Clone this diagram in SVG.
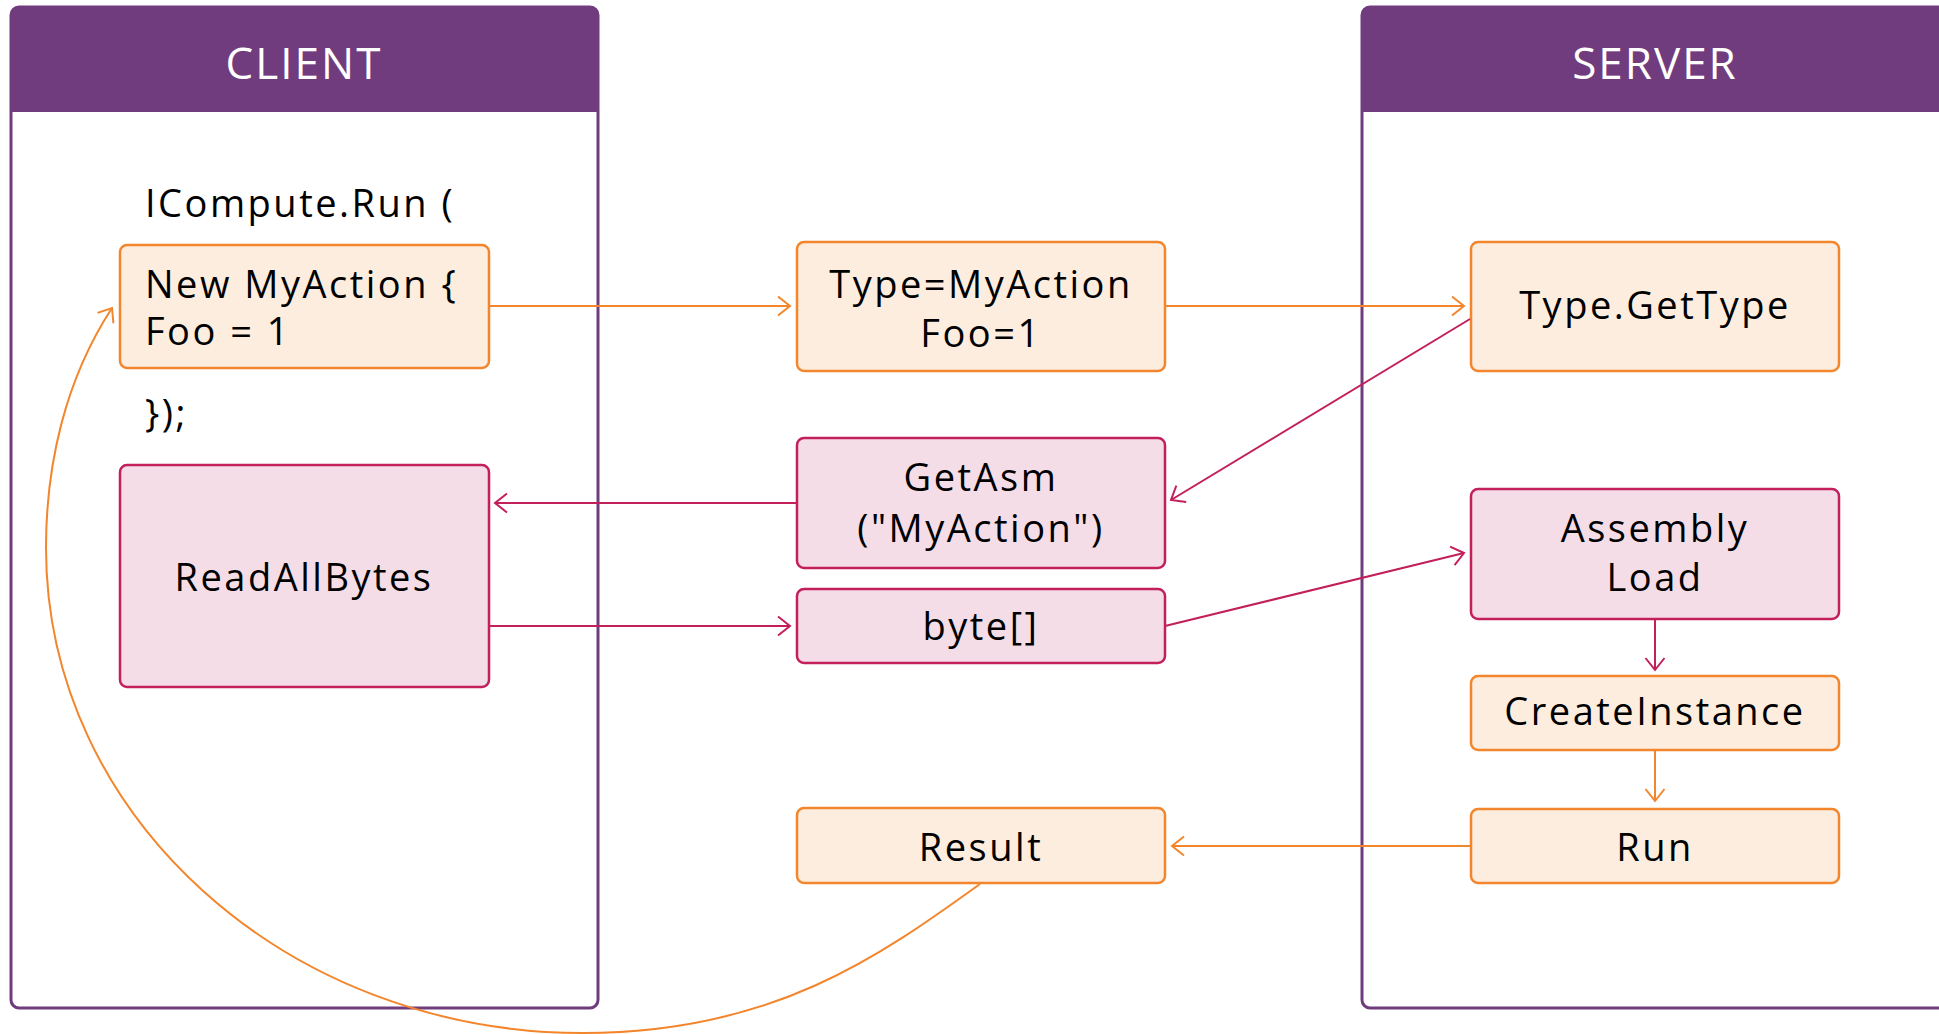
<svg xmlns="http://www.w3.org/2000/svg" width="1939" height="1034" viewBox="0 0 1939 1034">
  <style>
    .frame { fill: #ffffff; stroke: #703C7E; stroke-width: 3; }
    .head { fill: #703C7E; }
    .htxt { font-family: "Open Sans", "Noto Sans", sans-serif; font-size: 44px; fill: #ffffff; text-anchor: middle; letter-spacing: 2px; }
    .txt { font-family: "Open Sans", "Noto Sans", sans-serif; font-size: 38px; fill: #000000; letter-spacing: 2.5px; }
    .mid { text-anchor: middle; }
    .org { fill: #FDEDDF; stroke: #F3862C; stroke-width: 2.5; }
    .pnk { fill: #F4DDE7; stroke: #C21F5B; stroke-width: 2.5; }
    .co { fill: none; stroke: #F3862C; stroke-width: 2; }
    .cp { fill: none; stroke: #C21F5B; stroke-width: 2; }
  </style>
  <defs>
    <marker id="ao" markerUnits="userSpaceOnUse" markerWidth="16" markerHeight="22" viewBox="0 0 16 22" refX="14" refY="11" orient="auto">
      <path d="M2,1.5 L14,11 L2,20.5" fill="none" stroke="#F3862C" stroke-width="2"/>
    </marker>
    <marker id="ap" markerUnits="userSpaceOnUse" markerWidth="16" markerHeight="22" viewBox="0 0 16 22" refX="14" refY="11" orient="auto">
      <path d="M2,1.5 L14,11 L2,20.5" fill="none" stroke="#C21F5B" stroke-width="2"/>
    </marker>
  </defs>

  <!-- swimlane frames -->
  <g id="client">
    <rect class="frame" x="11" y="7" width="587" height="1001" rx="8"/>
    <path class="head" d="M11,15 Q11,7 19,7 L590,7 Q598,7 598,15 L598,112 L11,112 Z"/>
    <text class="htxt" x="304" y="79">CLIENT</text>
    <text class="txt" x="145" y="217">ICompute.Run (</text>
    <text class="txt" x="145" y="427">});</text>
  </g>
  <g id="server">
    <rect class="frame" x="1362" y="7" width="587" height="1001" rx="8"/>
    <path class="head" d="M1362,15 Q1362,7 1370,7 L1941,7 Q1949,7 1949,15 L1949,112 L1362,112 Z"/>
    <text class="htxt" x="1655" y="79">SERVER</text>
  </g>

  <!-- client nodes -->
  <g id="new-myaction">
    <rect class="org" x="120" y="245" width="369" height="123" rx="7"/>
    <text class="txt" x="145" y="298">New MyAction {</text>
    <text class="txt" x="145" y="345">Foo = 1</text>
  </g>
  <g id="readallbytes">
    <rect class="pnk" x="120" y="465" width="369" height="222" rx="7"/>
    <text class="txt mid" x="304" y="591">ReadAllBytes</text>
  </g>

  <!-- transport nodes -->
  <g id="type-myaction">
    <rect class="org" x="797" y="242" width="368" height="129" rx="7"/>
    <text class="txt mid" x="981" y="298">Type=MyAction</text>
    <text class="txt mid" x="981" y="347">Foo=1</text>
  </g>
  <g id="getasm">
    <rect class="pnk" x="797" y="438" width="368" height="130" rx="7"/>
    <text class="txt mid" x="981" y="491">GetAsm</text>
    <text class="txt mid" x="981" y="542">("MyAction")</text>
  </g>
  <g id="bytes">
    <rect class="pnk" x="797" y="589" width="368" height="74" rx="7"/>
    <text class="txt mid" x="981" y="640">byte[]</text>
  </g>
  <g id="result">
    <rect class="org" x="797" y="808" width="368" height="75" rx="7"/>
    <text class="txt mid" x="981" y="861">Result</text>
  </g>

  <!-- server nodes -->
  <g id="gettype">
    <rect class="org" x="1471" y="242" width="368" height="129" rx="7"/>
    <text class="txt mid" x="1655" y="319">Type.GetType</text>
  </g>
  <g id="assembly-load">
    <rect class="pnk" x="1471" y="489" width="368" height="130" rx="7"/>
    <text class="txt mid" x="1655" y="542">Assembly</text>
    <text class="txt mid" x="1655" y="591">Load</text>
  </g>
  <g id="createinstance">
    <rect class="org" x="1471" y="676" width="368" height="74" rx="7"/>
    <text class="txt mid" x="1655" y="725">CreateInstance</text>
  </g>
  <g id="run">
    <rect class="org" x="1471" y="809" width="368" height="74" rx="7"/>
    <text class="txt mid" x="1655" y="861">Run</text>
  </g>

  <!-- connectors -->
  <g id="connectors">
    <path class="co" d="M489,306 L790,306" marker-end="url(#ao)"/>
    <path class="co" d="M1165,306 L1464,306" marker-end="url(#ao)"/>
    <path class="cp" d="M1470,319 L1171,500" marker-end="url(#ap)"/>
    <path class="cp" d="M797,503 L495,503" marker-end="url(#ap)"/>
    <path class="cp" d="M489,626 L790,626" marker-end="url(#ap)"/>
    <path class="cp" d="M1165,626 L1464,553" marker-end="url(#ap)"/>
    <path class="cp" d="M1655,619 L1655,670" marker-end="url(#ap)"/>
    <path class="co" d="M1655,750 L1655,801" marker-end="url(#ao)"/>
    <path class="co" d="M1471,846 L1172,846" marker-end="url(#ao)"/>
    <!-- return path from Result back to the action object -->
    <path class="co" d="M980,884 C880,956 773,1033 583,1033 C286,1033 46,816 46,548 C46,465 65,380 112,308" marker-end="url(#ao)"/>
  </g>
</svg>
